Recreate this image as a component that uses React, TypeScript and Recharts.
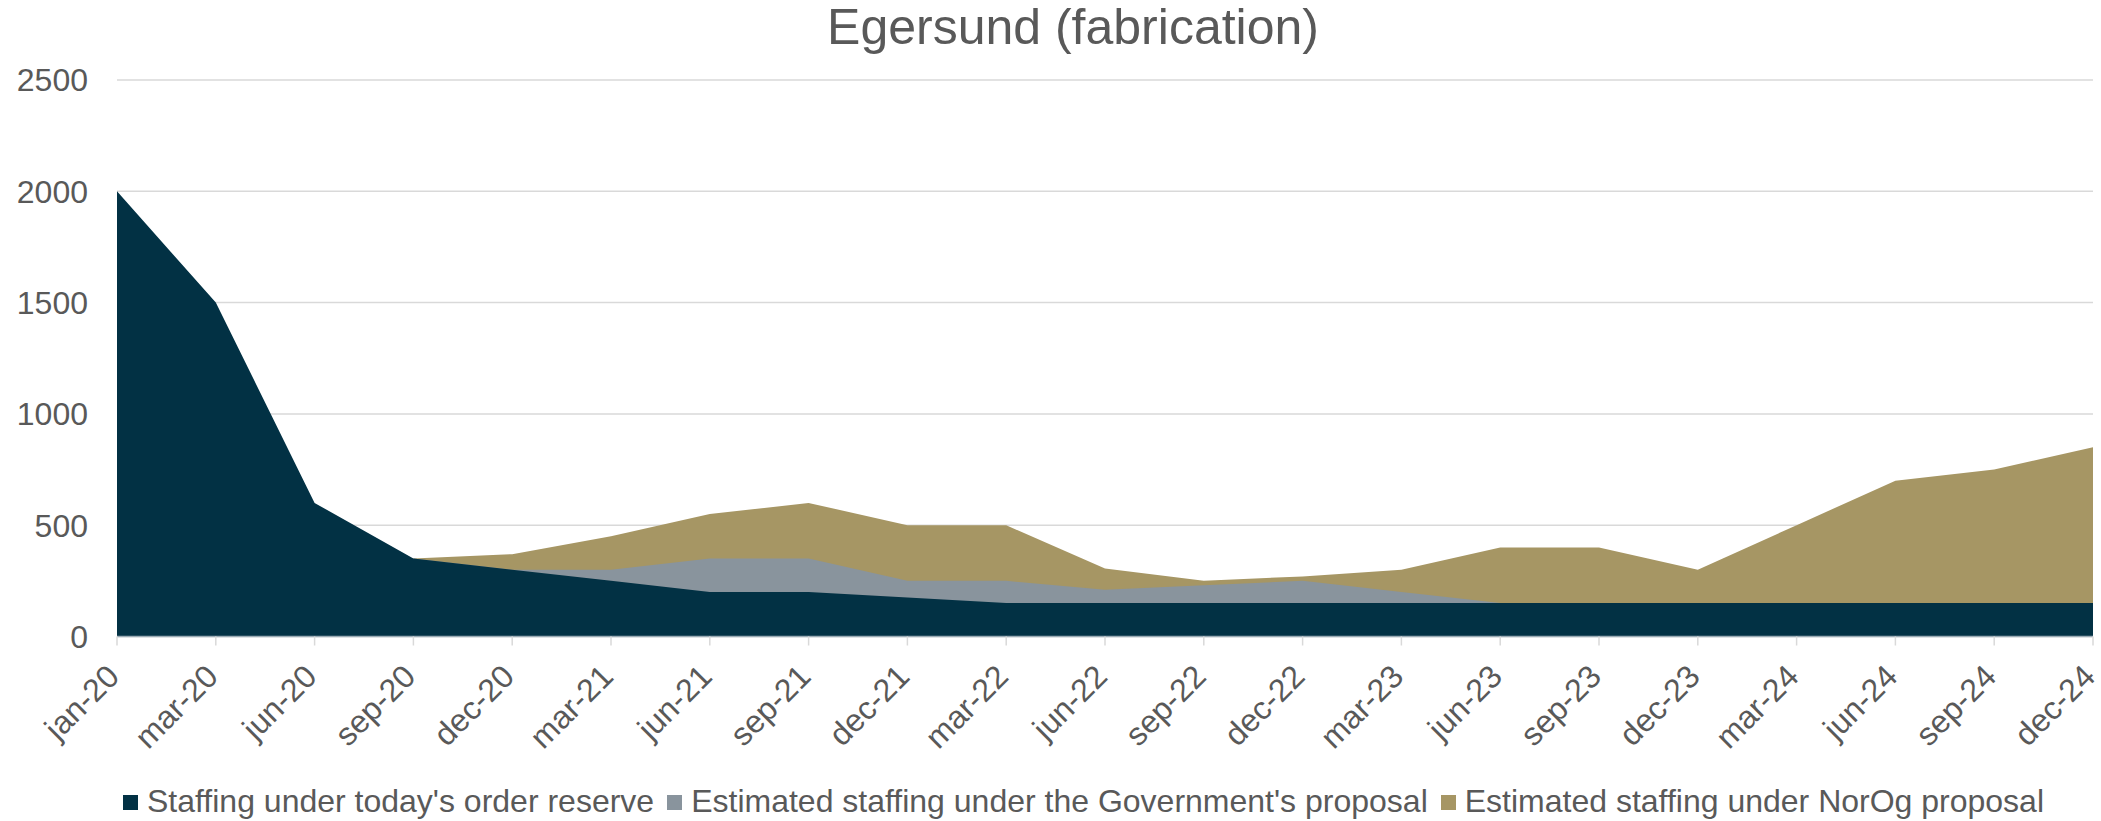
import React from "react";
import {
  Area,
  AreaChart,
  CartesianGrid,
  XAxis,
  YAxis,
} from "recharts";

// Quarter labels along the x axis
const categories = [
  "jan-20", "mar-20", "jun-20", "sep-20", "dec-20", "mar-21", "jun-21",
  "sep-21", "dec-21", "mar-22", "jun-22", "sep-22", "dec-22", "mar-23",
  "jun-23", "sep-23", "dec-23", "mar-24", "jun-24", "sep-24", "dec-24",
];

// Staffing levels (totals per scenario)
const orderReserve = [
  2000, 1500, 600, 350, 300, 250, 200, 200, 175, 150, 150, 150, 150, 150,
  150, 150, 150, 150, 150, 150, 150,
];
const govProposal = [
  null, null, null, 350, 300, 300, 350, 350, 250, 250, 210, 230, 250, 200,
  150, 150, 150, 150, 150, 150, 150,
];
const norogProposal = [
  null, null, null, 350, 370, 450, 550, 600, 500, 500, 305, 250, 270, 300,
  400, 400, 300, 500, 700, 750, 850,
];

const yTicks = [0, 500, 1000, 1500, 2000, 2500];

const seriesNames = [
  "Staffing under today's order reserve",
  "Estimated staffing under the Government's proposal",
  "Estimated staffing under NorOg proposal",
];
const seriesColors = ["#023144", "#89949d", "#a69664"];

const data = categories.map((month, i) => ({
  month,
  reserve: orderReserve[i],
  gov: govProposal[i],
  norog: norogProposal[i],
}));

const FONT = '"Liberation Sans", Arial, sans-serif';
const TEXT = "#595959";

const XTick = ({ x, y, payload }: any) => (
  <g transform={`translate(${x + 4},${y + 31})`}>
    <text
      x={0}
      y={0}
      textAnchor="end"
      transform="rotate(-45)"
      fill={TEXT}
      fontSize={32}
      fontFamily={FONT}
    >
      {payload.value}
    </text>
  </g>
);

export default function App() {
  return (
    <div
      style={{
        position: "relative",
        width: 2101,
        height: 821,
        background: "#fff",
        fontFamily: FONT,
      }}
    >
      <style>{"body{margin:0}"}</style>
      <div
        style={{
          position: "absolute",
          top: 0,
          left: 0,
          width: 2146,
          textAlign: "center",
          fontSize: 50,
          lineHeight: "54px",
          color: TEXT,
        }}
      >
        Egersund (fabrication)
      </div>
      <AreaChart
        width={2101}
        height={821}
        data={data}
        margin={{ top: 80, right: 8, left: 0, bottom: 0 }}
      >
        <CartesianGrid
          vertical={false}
          stroke="#d9d9d9"
          strokeWidth={1.5}
        />
        <XAxis
          dataKey="month"
          interval={0}
          height={184.5}
          axisLine={{ stroke: "#9aaab4", strokeWidth: 1.5 }}
          tickLine={{ stroke: "#d9d9d9", strokeWidth: 1.5 }}
          tickSize={9}
          tick={<XTick />}
        />
        <YAxis
          domain={[0, 2500]}
          ticks={yTicks}
          width={117}
          axisLine={false}
          tickLine={false}
          tickMargin={23}
          tick={{ fill: TEXT, fontSize: 32, fontFamily: FONT }}
        />
        <Area
          type="linear"
          dataKey="norog"
          stroke="none"
          fill={seriesColors[2]}
          fillOpacity={1}
          isAnimationActive={false}
        />
        <Area
          type="linear"
          dataKey="gov"
          stroke="none"
          fill={seriesColors[1]}
          fillOpacity={1}
          isAnimationActive={false}
        />
        <Area
          type="linear"
          dataKey="reserve"
          stroke="none"
          fill={seriesColors[0]}
          fillOpacity={1}
          isAnimationActive={false}
        />
      </AreaChart>
      <div
        style={{
          position: "absolute",
          top: 783,
          left: 123,
          display: "flex",
          alignItems: "center",
          fontSize: 32,
          lineHeight: "36px",
          color: TEXT,
          whiteSpace: "nowrap",
        }}
      >
        {seriesNames.map((name, i) => (
          <div
            key={name}
            style={{ display: "flex", alignItems: "center", marginRight: 13 }}
          >
            <span
              style={{
                display: "inline-block",
                width: 15,
                height: 15,
                background: seriesColors[i],
                marginRight: 9,
                marginTop: 3,
              }}
            />
            <span>{name}</span>
          </div>
        ))}
      </div>
    </div>
  );
}
